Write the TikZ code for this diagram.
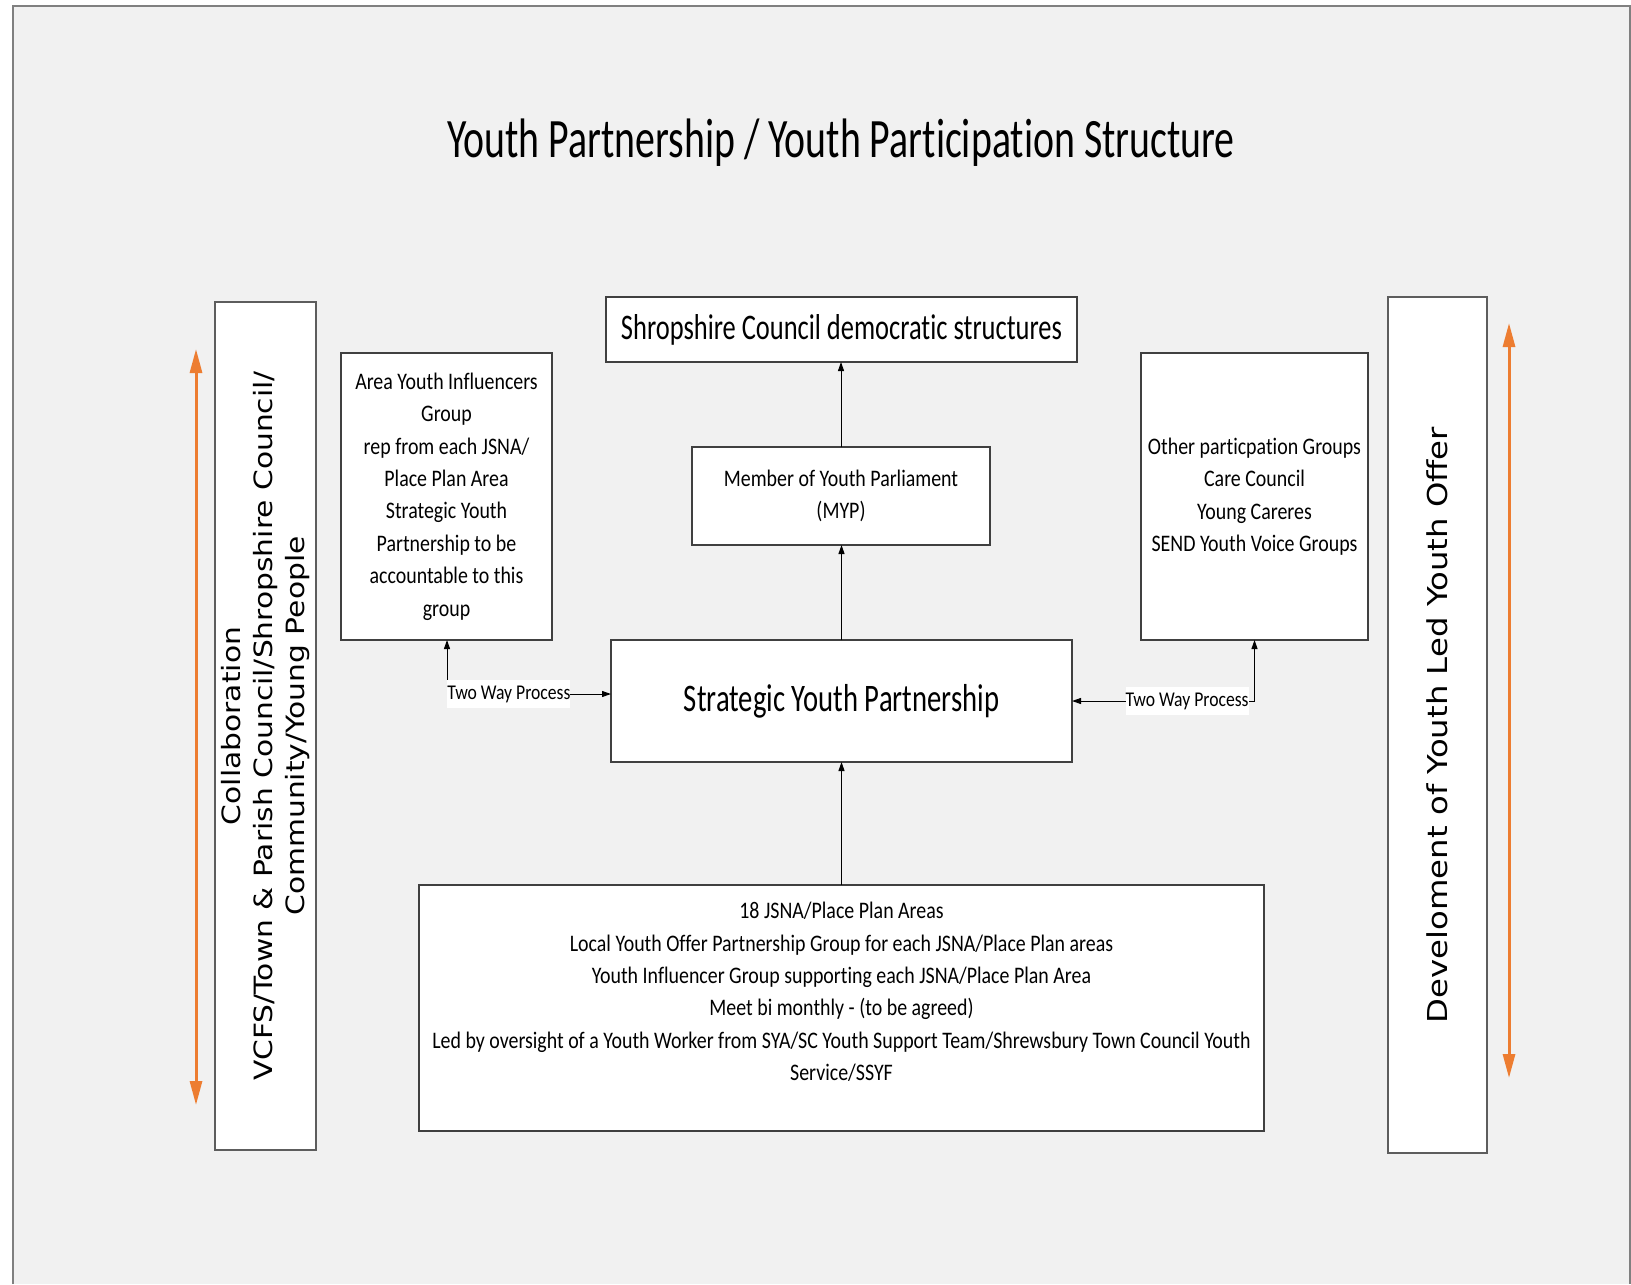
\documentclass[tikz,border=0pt]{standalone}
\usepackage{fontspec}
\setmainfont{Carlito}[FakeStretch=0.84,Ligatures={NoCommon,NoContextual},RawFeature={-calt;-dlig}]
\newfontfamily\titlef{Carlito}[FakeStretch=0.716,Ligatures={NoCommon,NoContextual},RawFeature={-calt;-dlig}]
\newfontfamily\bigf{Carlito}[FakeStretch=0.735,Ligatures={NoCommon,NoContextual},RawFeature={-calt;-dlig}]
\newfontfamily\vertf{DejaVu Sans}[FakeStretch=1.18]
\usetikzlibrary{arrows.meta}
\definecolor{panel}{HTML}{F1F1F1}
\definecolor{orng}{HTML}{ED7D31}
\definecolor{edge}{HTML}{404040}
\begin{document}
\begin{tikzpicture}[x=0.5pt,y=-0.5pt,
 box/.style={draw=edge, line width=0.7pt, fill=white, inner sep=0pt, outer sep=0pt, align=center},
 boxtext/.style={font=\fontsize{11.85}{16.2}\selectfont},
 conn/.style={draw=black, line width=0.5pt, -{Triangle[length=4.5pt,width=3pt]}},
 both/.style={draw=black, line width=0.5pt, {Triangle[length=4.5pt,width=3pt]}-{Triangle[length=4.5pt,width=3pt]}},
 orangearrow/.style={draw=orng, line width=1.5pt, {Triangle[length=12pt,width=6pt]}-{Triangle[length=12pt,width=6pt]}},
 lbl/.style={fill=white, inner sep=0pt, minimum height=14pt, font=\fontsize{10.5}{12}\selectfont}
]
\useasboundingbox (0,0) rectangle (1631,1284);
\fill[white] (0,0) rectangle (1631,1284);
\fill[panel] (13,6) rectangle (1631,1284);
\draw[gray, line width=1pt] (13,1284) -- (13,6) -- (1630,6) -- (1630,1284);

\node[font=\titlef\fontsize{27.8}{33}\selectfont, anchor=base] (title) at (841,157) {Youth Partnership / Youth Participation Structure};

\node[box, minimum width=235.5pt, minimum height=32.5pt, font=\bigf\fontsize{18}{22}\selectfont] (shrop) at (841.5,329.5) {Shropshire Council democratic structures};

\node[box, boxtext, minimum width=149pt, minimum height=49pt] (myp) at (841,496) {Member of Youth Parliament\\(MYP)};

\node[box, minimum width=230.5pt, minimum height=61pt, font=\bigf\fontsize{19.5}{24}\selectfont] (syp) at (841.5,701) {Strategic Youth Partnership};

\node[box, boxtext, minimum width=105.5pt, minimum height=143.5pt] (area) at (446.5,496.5) {Area Youth Influencers\\Group\\rep from each JSNA/\\Place Plan Area\\Strategic Youth\\Partnership to be\\accountable to this\\group};

\node[box, boxtext, minimum width=113.5pt, minimum height=143.5pt] (other) at (1254.5,496.5) {Other particpation Groups\\Care Council\\Young Careres\\SEND Youth Voice Groups};

\node[box, minimum width=422.5pt, minimum height=123pt] (bottom) at (841.5,1008) {};
\node[boxtext, align=center, inner sep=0pt] (bottomtext) at (841.5,992) {18 JSNA/Place Plan Areas\\Local Youth Offer Partnership Group for each JSNA/Place Plan areas\\Youth Influencer Group supporting each JSNA/Place Plan Area\\Meet bi monthly - (to be agreed)\\Led by oversight of a Youth Worker from SYA/SC Youth Support Team/Shrewsbury Town Council Youth\\Service/SSYF};

\node[box, draw=edge!85, rotate=90, minimum width=424pt, minimum height=50.5pt, font=\vertf\fontsize{12.6}{16}\selectfont] (lbox) at (265.5,726) {Collaboration\\VCFS/Town \& Parish Council/Shropshire Council/\\Community/Young People};

\node[box, draw=edge!85, rotate=90, minimum width=428pt, minimum height=49.5pt, font=\vertf\fontsize{13.7}{16}\selectfont] (rbox) at (1437.5,725) {Develoment of Youth Led Youth Offer};

\coordinate (la1) at (196,349);
\coordinate (la2) at (196,1105);
\draw[orangearrow] (la1) -- (la2);
\coordinate (ra1) at (1509,323);
\coordinate (ra2) at (1509,1078);
\draw[orangearrow] (ra1) -- (ra2);

\draw[conn] (syp.north) -- (syp.north |- myp.south);
\draw[conn] (myp.north) -- (myp.north |- shrop.south);
\draw[conn] (bottom.north) -- (bottom.north |- syp.south);

\coordinate (lj) at (447,694);
\draw[both] (lj |- area.south) -- (lj) -- (lj -| syp.west);
\node[lbl, anchor=west] (lbl1) at (lj) {Two Way Process};

\coordinate (rj) at (1254.5,701);
\draw[both] (other.south) -- (rj) -- (rj -| syp.east);
\node[lbl, anchor=east] (lbl2) at (1249,701) {Two Way Process};
\end{tikzpicture}
\end{document}
